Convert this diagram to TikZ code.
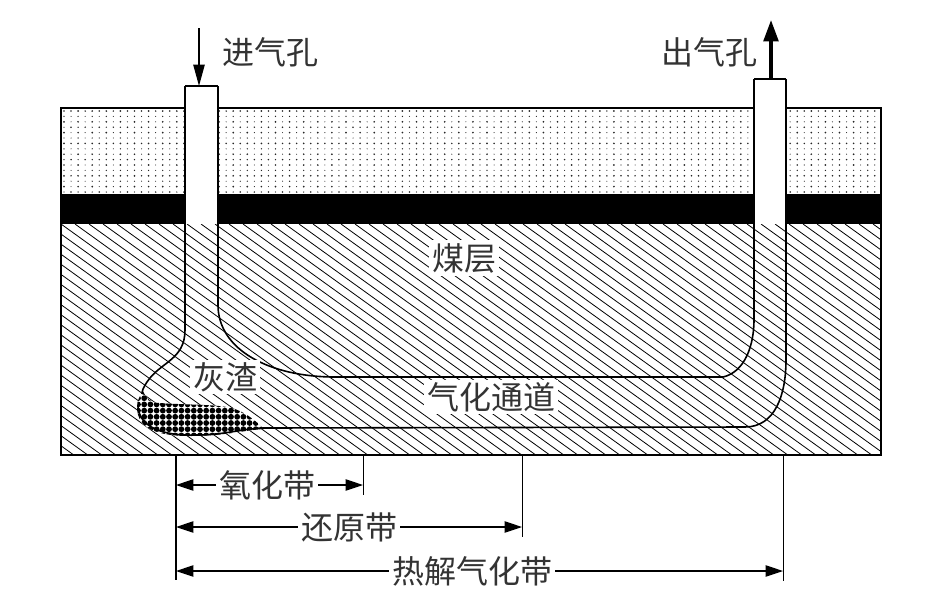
\documentclass[tikz,border=0pt]{standalone}
\usepackage{fontspec}
\newfontfamily\cjk{Noto Sans CJK SC}
\usetikzlibrary{arrows.meta}
\tikzset{
  x=0.75pt,y=-0.75pt,
  lbl/.style={font=\cjk\fontsize{24}{24}\selectfont,inner sep=1pt,text=black!80},
  patch/.style={lbl,fill=white,inner sep=2pt},
  seam/.style={draw=black,line width=1pt},
  chan/.style={draw=black,line width=1.2pt,line join=round},
  hatchline/.style={draw=black,line width=0.6pt},
  dim/.style={draw=black,line width=0.9pt,{Triangle[length=13pt,width=8.5pt]}-{Triangle[length=13pt,width=8.5pt]}},
  tick/.style={draw=black,line width=0.7pt}
}
\begin{document}
\begin{tikzpicture}
\useasboundingbox (0,0) rectangle (945,615);
\fill[white] (0,0) rectangle (945,615);
% sand
\begin{scope}
\clip (61,108) rectangle (881,194);
\foreach \i in {0,...,116}{
  \foreach \j in {0,...,15}{
    \pgfmathsetmacro{\xx}{64+7.05*\i}
    \pgfmathsetmacro{\yy}{111+5.4*\j}
    \pgfmathsetmacro{\rr}{mod(\i,2)==0?(mod(\j,2)==0?0.95:0.7):(mod(\j,3)==0?0.85:0.55)}
    \fill[black!85] (\xx,\yy) circle[radius=\rr];
  }
}
\end{scope}
% black seam
\fill[black] (61,194) rectangle (881,224);
% hatch
\begin{scope}
\clip (61,224) rectangle (881,455);
\foreach \k in {-25,...,60}{
  \draw[hatchline] (61+\k*14,224) -- ++(320.8,231);
}
\end{scope}
\draw[seam] (61,108) rectangle (881,455);
% pipes
\fill[white] (185,86) rectangle (218,224);
\fill[white] (754,79) rectangle (786,224);
% blob
\begin{scope}
\clip (143,391) .. controls (147,400) and (152,403) .. (160,403)
  .. controls (185,405) and (215,404) .. (232,408)
  .. controls (245,412) and (255,420) .. (264,429)
  .. controls (245,430) and (225,436) .. (190,436)
  .. controls (160,436) and (137,430) .. (137,407)
  .. controls (137,400) and (140,396) .. (143,391) -- cycle;
\fill[white] (130,385) rectangle (270,440);
\foreach \i in {0,...,21}{
  \foreach \j in {0,...,7}{
    \pgfmathsetmacro{\xx}{138+6.2*\i}
    \pgfmathsetmacro{\yy}{392+6.2*\j}
    \fill[black] (\xx,\yy) circle[radius=2.9];
  }
}
\end{scope}
% channel walls
\coordinate (ptl) at (185,86);
\coordinate (ptr) at (218,86);
\coordinate (qtl) at (754,79);
\coordinate (qtr) at (786,79);
\draw[chan] (ptl) -- (185,330)
  .. controls (185,360) and (160,362) .. (147,382)
  .. controls (143,388) and (142,391) .. (142,394);
\draw[chan] (138,405) .. controls (138,428) and (165,436) .. (195,435)
  .. controls (225,435) and (240,429) .. (263,428) -- (745,427)
  .. controls (775,427) and (786,395) .. (786,360) -- (qtr);
\draw[chan] (ptr) -- (218,305)
  .. controls (218,350) and (270,377) .. (335,377) -- (723,377)
  .. controls (745,372) and (754,345) .. (754,320) -- (qtl);
\draw[chan] (ptl) -- (ptr);
\draw[chan] (qtl) -- (qtr);
% gas arrows
\coordinate (ain) at (199,28);
\coordinate (ainend) at (199,86);
\coordinate (aout) at (771,79);
\coordinate (aoutend) at (771,20);
\draw[draw=black,line width=1pt,-{Triangle[length=16pt,width=8.5pt]}] (ain) -- (ainend);
\draw[draw=black,line width=2.6pt,-{Triangle[length=16pt,width=11pt]}] (aout) -- (aoutend);
% labels
\node[lbl] (l1) at (270,52) {进气孔};
\node[lbl] (l2) at (709,52) {出气孔};
\node[patch] (l3) at (464,258) {煤层};
\node[patch] (l4) at (491,397) {气化通道};
\node[patch] (l5) at (225,377) {灰渣};
% dimensions
\coordinate (d0t) at (176,455);
\coordinate (d0b) at (176,580);
\coordinate (d1t) at (363,455);
\coordinate (d1b) at (363,495);
\coordinate (d2t) at (522,455);
\coordinate (d2b) at (522,537);
\coordinate (d3t) at (783,455);
\coordinate (d3b) at (783,581);
\draw[draw=black,line width=1.2pt] (d0t) -- (d0b);
\draw[tick] (d1t) -- (d1b);
\draw[tick] (d2t) -- (d2b);
\draw[tick] (d3t) -- (d3b);
\coordinate (a1l) at (176,485);
\coordinate (a1r) at (363,485);
\coordinate (a2l) at (176,527);
\coordinate (a2r) at (522,527);
\coordinate (a3l) at (176,571);
\coordinate (a3r) at (783,571);
\draw[dim] (a1l) -- (a1r);
\draw[dim] (a2l) -- (a2r);
\draw[dim] (a3l) -- (a3r);
\node[patch] (m1) at (267,485) {氧化带};
\node[patch] (m2) at (349,527) {还原带};
\node[patch] (m3) at (472,571) {热解气化带};
\end{tikzpicture}
\end{document}
